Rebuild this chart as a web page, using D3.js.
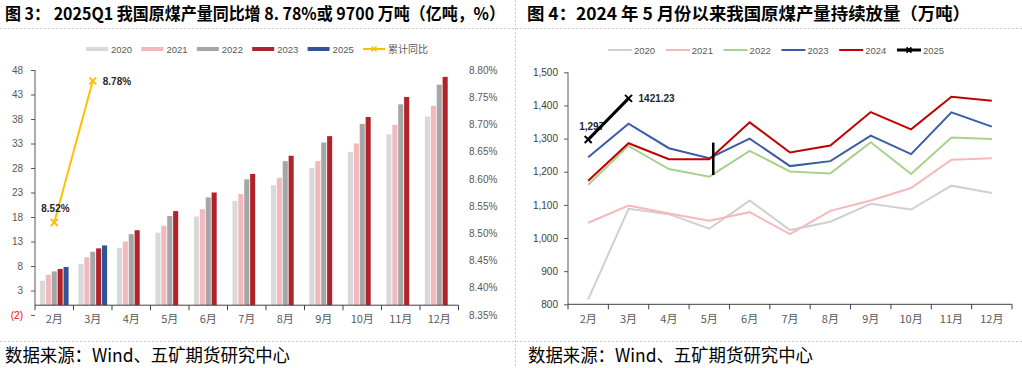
<!DOCTYPE html>
<html>
<head>
<meta charset="utf-8">
<script src="https://cdn.jsdelivr.net/npm/d3@7"></script>
<style>
  html, body { margin: 0; padding: 0; background: #fff; }
  svg { display: block; }
</style>
</head>
<body>
<svg id="chart" width="1022" height="368"></svg>
<script>
// ---- data ----
const months = ['2月', '3月', '4月', '5月', '6月', '7月', '8月', '9月', '10月', '11月', '12月'];

// left: cumulative output, 亿吨
const barYears = ['2020', '2021', '2022', '2023', '2025'];
const bar2020 = [5.0, 8.4, 11.7, 14.8, 18.1, 21.3, 24.5, 28.0, 31.3, 34.9, 38.5];
const bar2021 = [6.2, 9.8, 13.0, 16.2, 19.6, 22.7, 26.0, 29.4, 33.0, 36.8, 40.7];
const bar2022 = [6.9, 10.9, 14.5, 18.2, 22.0, 25.7, 29.4, 33.2, 37.0, 41.0, 45.0];
const bar2023 = [7.4, 11.6, 15.3, 19.2, 23.0, 26.8, 30.5, 34.5, 38.4, 42.5, 46.6];
const bar2025 = [7.8, 12.2, null, null, null, null, null, null, null, null, null];
const ytdYoY = [8.52, 8.78];
const ytdLabels = ['8.52%', '8.78%'];
const leftTicks = [-2, 3, 8, 13, 18, 23, 28, 33, 38, 43, 48];
const rightTicks = [8.35, 8.40, 8.45, 8.50, 8.55, 8.60, 8.65, 8.70, 8.75, 8.80];

// right: monthly output, 万吨
const lineYears = ['2020', '2021', '2022', '2023', '2024', '2025'];
const line2020 = [815, 1088, 1072, 1028, 1113, 1024, 1049, 1103, 1086, 1158, 1136];
const line2021 = [1046, 1098, 1074, 1052, 1078, 1012, 1082, 1113, 1151, 1236, 1241];
const line2022 = [1161, 1278, 1208, 1185, 1263, 1201, 1195, 1289, 1193, 1303, 1299];
const line2023 = [1244, 1345, 1271, 1241, 1300, 1217, 1232, 1309, 1253, 1379, 1336];
const line2024 = [1173, 1286, 1238, 1238, 1349, 1258, 1279, 1380, 1328, 1426, 1414];
const line2025 = [1297, 1421.23, null, null, null, null, null, null, null, null, null];
const line2025Labels = ['1,297', '1421.23'];
const rightChartTicks = [800, 900, 1000, 1100, 1200, 1300, 1400, 1500];
const markerMonth = '5月';
const markerRange = [1190, 1288];

const titleLeft = '图 3： 2025Q1 我国原煤产量同比增 8. 78%或 9700 万吨（亿吨，%）';
const titleRight = '图 4：2024 年 5 月份以来我国原煤产量持续放量（万吨）';
const source = '数据来源：Wind、五矿期货研究中心';

// ---- styles ----
const barColors = { '2020': '#d9d9d9', '2021': '#f2b9bc', '2022': '#a6a6a6', '2023': '#b1232b', '2025': '#2f5597' };
const lineColors = { '2020': '#d0d0d0', '2021': '#f6b8ba', '2022': '#a9d18e', '2023': '#3a5ca6', '2024': '#c00000', '2025': '#000000' };
const yoyColor = '#ffc000';
const axisColor = '#595959';
const numFont = 'Liberation Sans, Arial, sans-serif';
const cjkFont = '"Noto Sans CJK SC", "Noto Sans", sans-serif';

const svg = d3.select('#chart');

// separators
const sep = svg.append('g').attr('stroke', '#c8c8c8').attr('stroke-dasharray', '2,2').attr('stroke-width', 1);
sep.append('line').attr('x1', 0).attr('x2', 1022).attr('y1', 28.5).attr('y2', 28.5);
sep.append('line').attr('x1', 0).attr('x2', 1022).attr('y1', 341.5).attr('y2', 341.5);
sep.append('line').attr('x1', 515.5).attr('x2', 515.5).attr('y1', 0).attr('y2', 368);

// titles and sources
svg.append('text').attr('x', 5).attr('y', 20).text(titleLeft)
  .attr('font-family', cjkFont).attr('font-weight', 700).attr('font-size', 17)
  .attr('textLength', 500).attr('lengthAdjust', 'spacingAndGlyphs').attr('fill', '#000');
svg.append('text').attr('x', 527).attr('y', 20).text(titleRight)
  .attr('font-family', cjkFont).attr('font-weight', 700).attr('font-size', 17)
  .attr('textLength', 443).attr('lengthAdjust', 'spacingAndGlyphs').attr('fill', '#000');
[5, 528].forEach(x => {
  svg.append('text').attr('x', x).attr('y', 362).text(source)
    .attr('font-family', cjkFont).attr('font-size', 18)
    .attr('textLength', 285).attr('lengthAdjust', 'spacingAndGlyphs').attr('fill', '#000');
});

// ================= left chart =================
const xL = d3.scaleBand().domain(months).range([35, 458.5]);
const xLsub = d3.scaleBand().domain(barYears).range([4.9, 33.6]).paddingInner(0.14);
const yL = d3.scaleLinear().domain([-2, 48]).range([315, 70]);
const yR = d3.scaleLinear().domain([8.35, 8.80]).range([315, 70]);

const barSeries = { '2020': bar2020, '2021': bar2021, '2022': bar2022, '2023': bar2023, '2025': bar2025 };
const left = svg.append('g');

barYears.forEach(yr => {
  left.append('g')
    .selectAll('rect')
    .data(months.map((m, i) => ({ m, v: barSeries[yr][i] })).filter(d => d.v != null))
    .enter()
    .append('rect')
    .attr('x', d => xL(d.m) + xLsub(yr))
    .attr('width', xLsub.bandwidth())
    .attr('y', d => yL(d.v))
    .attr('height', d => yL(0) - yL(d.v))
    .attr('fill', barColors[yr]);
});

// left y axis
const axL = left.append('g').attr('transform', 'translate(35,0)')
  .call(d3.axisLeft(yL).tickValues(leftTicks).tickSize(4).tickPadding(8)
    .tickFormat(d => d < 0 ? `(${-d})` : d));
axL.select('.domain').attr('stroke', axisColor).attr('d', `M0,${yL(0)}V${yL(48)}`);
axL.selectAll('.tick line').attr('stroke', axisColor);
axL.selectAll('.tick text').attr('font-family', numFont).attr('font-size', 10)
  .attr('fill', d => d < 0 ? '#ff0000' : axisColor);

// right y axis (percent)
const axR = left.append('g').attr('transform', 'translate(467,0)')
  .call(d3.axisRight(yR).tickValues(rightTicks).tickSize(0).tickPadding(2)
    .tickFormat(d => d.toFixed(2) + '%'));
axR.select('.domain').remove();
axR.selectAll('.tick text').attr('font-family', numFont).attr('font-size', 10).attr('fill', axisColor);

// x axis
const xAxL = left.append('g');
xAxL.append('line').attr('x1', 35).attr('x2', 458.5).attr('y1', yL(0)).attr('y2', yL(0))
  .attr('stroke', '#404040');
xAxL.selectAll('line.t').data(months.concat(['end'])).enter().append('line')
  .attr('x1', (d, i) => 35 + i * xL.step()).attr('x2', (d, i) => 35 + i * xL.step())
  .attr('y1', yL(0)).attr('y2', yL(0) + 5).attr('stroke', '#404040');
xAxL.selectAll('text').data(months).enter().append('text')
  .attr('x', d => xL(d) + xL.bandwidth() / 2).attr('y', 323)
  .attr('text-anchor', 'middle').attr('font-family', cjkFont).attr('font-size', 11)
  .attr('fill', axisColor).text(d => d);

// yoy line
const yoyPts = ytdYoY.map((v, i) => ({ m: months[i], v, label: ytdLabels[i] }));
left.append('path').datum(yoyPts)
  .attr('d', d3.line().x(d => xL(d.m) + xL.bandwidth() / 2).y(d => yR(d.v)))
  .attr('fill', 'none').attr('stroke', yoyColor).attr('stroke-width', 2);

function xMark(g, size, color, width) {
  g.append('path').attr('d', `M${-size},${-size}L${size},${size}M${-size},${size}L${size},${-size}`)
    .attr('stroke', color).attr('stroke-width', width).attr('fill', 'none');
}
yoyPts.forEach((d, i) => {
  const cx = xL(d.m) + xL.bandwidth() / 2, cy = yR(d.v);
  xMark(left.append('g').attr('transform', `translate(${cx},${cy})`), 3.5, yoyColor, 2);
  left.append('text')
    .attr('x', i === 0 ? cx - 13 : cx + 10)
    .attr('y', i === 0 ? cy - 10 : cy + 4)
    .attr('font-family', numFont).attr('font-weight', 700).attr('font-size', 10)
    .attr('fill', '#262626').text(d.label);
});

// left legend
const legL = left.append('g');
barYears.forEach((yr, i) => {
  const x = 86 + i * 55.4;
  legL.append('rect').attr('x', x).attr('y', 47).attr('width', 22).attr('height', 4).attr('fill', barColors[yr]);
  legL.append('text').attr('x', x + 25).attr('y', 52.5).attr('font-family', numFont)
    .attr('font-size', 9.5).attr('fill', axisColor).text(yr);
});
{
  const x = 86 + 5 * 55.4;
  legL.append('line').attr('x1', x).attr('x2', x + 22).attr('y1', 49).attr('y2', 49)
    .attr('stroke', yoyColor).attr('stroke-width', 2);
  xMark(legL.append('g').attr('transform', `translate(${x + 11},49)`), 2.5, yoyColor, 1.5);
  legL.append('text').attr('x', x + 25).attr('y', 53).attr('font-family', cjkFont)
    .attr('font-size', 10).attr('fill', axisColor).text('累计同比');
}

// ================= right chart =================
const xR = d3.scaleBand().domain(months).range([568, 1012]);
const yRt = d3.scaleLinear().domain([800, 1500]).range([304.3, 72.3]);
const cx = m => xR(m) + xR.bandwidth() / 2;
const right = svg.append('g');

const axY = right.append('g').attr('transform', 'translate(568,0)')
  .call(d3.axisLeft(yRt).tickValues(rightChartTicks).tickSize(4).tickPadding(6).tickFormat(d3.format(',')));
axY.select('.domain').attr('stroke', axisColor).attr('d', `M0,${yRt(800)}V${yRt(1500)}`);
axY.selectAll('.tick line').attr('stroke', axisColor);
axY.selectAll('.tick text').attr('font-family', numFont).attr('font-size', 10).attr('fill', '#404040');

const xAxR = right.append('g');
xAxR.append('line').attr('x1', 568).attr('x2', 1012).attr('y1', yRt(800)).attr('y2', yRt(800))
  .attr('stroke', '#404040');
xAxR.selectAll('line.t').data(months.concat(['end'])).enter().append('line')
  .attr('x1', (d, i) => 568 + i * xR.step()).attr('x2', (d, i) => 568 + i * xR.step())
  .attr('y1', yRt(800)).attr('y2', yRt(800) + 5).attr('stroke', '#404040');
xAxR.selectAll('text').data(months).enter().append('text')
  .attr('x', d => cx(d)).attr('y', 323)
  .attr('text-anchor', 'middle').attr('font-family', cjkFont).attr('font-size', 11)
  .attr('fill', axisColor).text(d => d);

const lineSeries = { '2020': line2020, '2021': line2021, '2022': line2022, '2023': line2023, '2024': line2024, '2025': line2025 };
const lineGen = d3.line().defined(d => d.v != null).x(d => cx(d.m)).y(d => yRt(d.v));

// 2025 labels drawn under the lines
const pts25 = line2025.map((v, i) => ({ m: months[i], v, label: line2025Labels[i] })).filter(d => d.v != null);
right.append('text').attr('x', cx(pts25[0].m) - 9).attr('y', yRt(pts25[0].v) - 10)
  .attr('font-family', numFont).attr('font-weight', 700).attr('font-size', 10).attr('fill', '#262626')
  .text(pts25[0].label);

['2020', '2021', '2022', '2023', '2024'].forEach(yr => {
  right.append('path').datum(lineSeries[yr].map((v, i) => ({ m: months[i], v })))
    .attr('d', lineGen).attr('fill', 'none').attr('stroke', lineColors[yr])
    .attr('stroke-width', 2).attr('stroke-linejoin', 'miter');
});

right.append('path').datum(pts25).attr('d', lineGen)
  .attr('fill', 'none').attr('stroke', '#000').attr('stroke-width', 3);
pts25.forEach(d => {
  xMark(right.append('g').attr('transform', `translate(${cx(d.m)},${yRt(d.v)})`), 3.5, '#000', 2);
});
right.append('text').attr('x', cx(pts25[1].m) + 10).attr('y', yRt(pts25[1].v) + 4)
  .attr('font-family', numFont).attr('font-weight', 700).attr('font-size', 10).attr('fill', '#262626')
  .text(pts25[1].label);

// vertical marker at May
right.append('line')
  .attr('x1', cx(markerMonth) + 4).attr('x2', cx(markerMonth) + 4)
  .attr('y1', yRt(markerRange[0])).attr('y2', yRt(markerRange[1]))
  .attr('stroke', '#000').attr('stroke-width', 2.5);

// right legend
const legR = right.append('g');
lineYears.forEach((yr, i) => {
  const x = 608 + i * 57.8;
  legR.append('line').attr('x1', x).attr('x2', x + 24).attr('y1', 50).attr('y2', 50)
    .attr('stroke', lineColors[yr]).attr('stroke-width', yr === '2025' ? 3 : 2);
  if (yr === '2025') xMark(legR.append('g').attr('transform', `translate(${x + 12},50)`), 2.5, '#000', 2);
  legR.append('text').attr('x', x + 26).attr('y', 54).attr('font-family', numFont)
    .attr('font-size', 9.5).attr('fill', axisColor).text(yr);
});
</script>
</body>
</html>
